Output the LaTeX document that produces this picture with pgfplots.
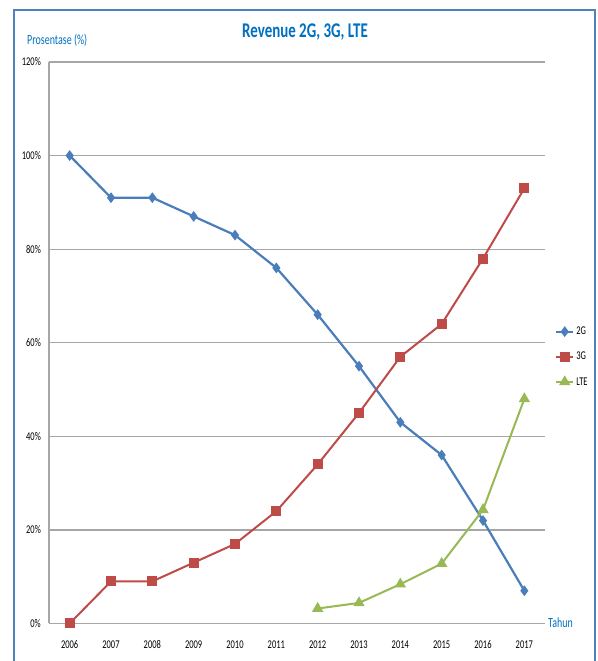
\documentclass[border=0pt]{standalone}
\usepackage{pgfplots}
\pgfplotsset{compat=1.18}
\usepackage{fontspec}
\setmainfont{Carlito}
\definecolor{c2g}{HTML}{4A7EBB}
\definecolor{c3g}{HTML}{BE4B48}
\definecolor{clte}{HTML}{98B954}
\definecolor{tblue}{HTML}{0070C0}
\definecolor{gridc}{HTML}{A6A6A6}
\definecolor{framec}{HTML}{4F81BD}
\newcommand{\tall}[1]{\scalebox{1}[1.4]{#1}}
\begin{document}
\begin{tikzpicture}[x=1bp,y=1bp]
\useasboundingbox (0,0) rectangle (598,661);
\fill[white] (0,0) rectangle (598,661);
\draw[framec, line width=2.2bp] (14,-10) -- (14,651) -- (595,651) -- (595,-10);
\begin{axis}[
  at={(49bp,37.5bp)}, anchor=south west,
  scale only axis, width=496bp, height=561.5bp,
  xmin=2005.5, xmax=2017.5, ymin=0, ymax=120,
  xtick={2006,...,2017}, ytick={0,20,...,120},
  scaled x ticks=false, scaled y ticks=false,
  axis x line*=bottom, axis y line*=left,
  axis line style={gridc, line width=1.2bp},
  ymajorgrids, grid style={gridc, line width=1.2bp},
  major tick length=0pt,
  tick style={draw=none},
  /pgf/number format/assume math mode=true,
  ticklabel style={font=\fontsize{8.5}{9}\selectfont, inner sep=0pt},
  xticklabel={\tall{\pgfmathprintnumber[1000 sep={}]{\tick}}},
  yticklabel={\tall{\pgfmathprintnumber{\tick}\%}},
  xticklabel style={yshift=-17bp},
  yticklabel style={xshift=-8bp},
  legend style={at={(1.02,0.475)}, anchor=west, draw=none, fill=none,
    font=\fontsize{8.5}{9}\selectfont, row sep=12bp, inner sep=0pt},
  legend cell align=left,
  clip=false,
]
\addplot[c2g, line width=2.2bp, mark=diamond*, mark size=3.6bp] coordinates {
(2006,100) (2007,91) (2008,91) (2009,87) (2010,83) (2011,76) (2012,66) (2013,55) (2014,43) (2015,36) (2016,22) (2017,7)};
\addlegendentry{\tall{2G}}
\addplot[c3g, line width=2bp, mark=square*, mark size=4bp] coordinates {
(2006,0) (2007,9) (2008,9) (2009,13) (2010,17) (2011,24) (2012,34) (2013,45) (2014,57) (2015,64) (2016,78) (2017,93)};
\addlegendentry{\tall{3G}}
\addplot[clte, line width=2bp, mark=triangle*, mark size=4.6bp] coordinates {
(2012,3.2) (2013,4.4) (2014,8.4) (2015,12.8) (2016,24.3) (2017,48)};
\addlegendentry{\tall{LTE}}
\end{axis}
\node[tblue, font=\bfseries\fontsize{15}{18}\selectfont] at (305,629) {\tall{Revenue 2G, 3G, LTE}};
\node[tblue, font=\fontsize{10}{12}\selectfont, anchor=west, inner sep=0pt] at (27,621) {\tall{Prosentase (\%)}};
\node[tblue, font=\fontsize{10}{12}\selectfont, anchor=west, inner sep=0pt] at (548,38) {\tall{Tahun}};
\end{tikzpicture}
\end{document}
